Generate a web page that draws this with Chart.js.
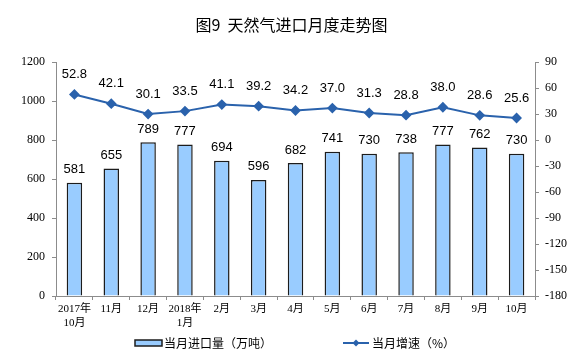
<!DOCTYPE html>
<html><head><meta charset="utf-8">
<script src="https://cdn.jsdelivr.net/npm/chart.js@4/dist/chart.umd.min.js"></script>
<style>html,body{margin:0;padding:0;background:#fff}#wrap{width:583px;height:356px}</style>
</head><body><div id="wrap"><canvas id="c" width="583" height="356"></canvas></div>
<script>
const categories = [["2017年","10月"],"11月","12月",["2018年","1月"],"2月","3月","4月","5月","6月","7月","8月","9月","10月"];
const importVolume = [581,655,789,777,694,596,682,741,730,738,777,762,730];
const growthRate = [52.8,42.1,30.1,33.5,41.1,39.2,34.2,37.0,31.3,28.8,38.0,28.6,25.6];
const leftTicks = [0,200,400,600,800,1000,1200];
const rightTicks = [-180,-150,-120,-90,-60,-30,0,30,60,90];
const seriesNames = ["当月进口量（万吨）","当月增速（%）"];
const titleText = "图9  天然气进口月度走势图";

const BAR_FILL = '#99CCFF', BAR_BORDER = '#1c1c1c', LINE_COLOR = '#2A62AC', AXIS = '#8c8c8c';
const serif = '"Liberation Serif","Noto Sans CJK SC",serif';
const cjk = '"Liberation Serif","Noto Sans CJK SC",sans-serif';

const labelPlugin = {
  id: 'valueLabels',
  afterDatasetsDraw(chart) {
    const ctx = chart.ctx;
    ctx.save();
    ctx.font = '13px "Liberation Sans", Arial, sans-serif';
    ctx.fillStyle = '#000';
    ctx.textAlign = 'center';
    ctx.textBaseline = 'middle';
    chart.getDatasetMeta(0).data.forEach((el, i) => {
      ctx.fillText(String(importVolume[i]), el.x, el.y - 13);
    });
    chart.getDatasetMeta(1).data.forEach((el, i) => {
      ctx.fillText(growthRate[i].toFixed(1), el.x, el.y - 20);
    });
    ctx.restore();
  }
};

const legendPlugin = {
  id: 'customLegend',
  afterDraw(chart) {
    const ctx = chart.ctx;
    const y = 343;
    ctx.save();
    ctx.font = '12px "Noto Sans CJK SC", sans-serif';
    ctx.textBaseline = 'middle';
    ctx.fillStyle = BAR_FILL;
    ctx.fillRect(135, y - 3, 27, 6);
    ctx.strokeStyle = BAR_BORDER; ctx.lineWidth = 1.5;
    ctx.strokeRect(135, y - 3, 27, 6);
    ctx.fillStyle = '#000';
    ctx.fillText(seriesNames[0], 164, y);
    ctx.strokeStyle = LINE_COLOR; ctx.lineWidth = 2;
    ctx.beginPath(); ctx.moveTo(343, y); ctx.lineTo(369, y); ctx.stroke();
    ctx.fillStyle = LINE_COLOR;
    ctx.beginPath(); ctx.moveTo(356, y - 3.5); ctx.lineTo(359.5, y); ctx.lineTo(356, y + 3.5); ctx.lineTo(352.5, y); ctx.closePath(); ctx.fill();
    ctx.fillStyle = '#000';
    ctx.fillText(seriesNames[1], 372, y);
    ctx.restore();
  }
};

new Chart(document.getElementById('c'), {
  data: {
    labels: categories,
    datasets: [
      { type: 'bar', label: seriesNames[0], data: importVolume, yAxisID: 'y',
        backgroundColor: BAR_FILL, borderColor: BAR_BORDER, borderWidth: 1.5,
        categoryPercentage: 1.0, barPercentage: 0.42, order: 2 },
      { type: 'line', label: seriesNames[1], data: growthRate, yAxisID: 'y1',
        borderColor: LINE_COLOR, backgroundColor: LINE_COLOR, borderWidth: 2,
        pointStyle: 'rectRot', pointRadius: 4, pointBackgroundColor: LINE_COLOR,
        pointBorderColor: LINE_COLOR, tension: 0, order: 1 }
    ]
  },
  options: {
    responsive: false, animation: false, devicePixelRatio: 1,
    layout: { padding: { left: 0, right: 0, top: 0, bottom: 26 } },
    plugins: {
      legend: { display: false },
      tooltip: { enabled: false },
      title: { display: true, text: titleText, color: '#000',
        font: { family: '"Noto Sans CJK SC", sans-serif', size: 16, weight: 'normal', lineHeight: 1.2 },
        padding: { top: 15, bottom: 28 } }
    },
    scales: {
      x: {
        offset: true,
        grid: { display: true, drawOnChartArea: false, offset: true, color: AXIS, tickLength: 4 },
        border: { display: true, color: AXIS, width: 1 },
        ticks: { color: '#000', font: { family: cjk, size: 11, lineHeight: 1.2 }, padding: 3, maxRotation: 0, autoSkip: false },
        afterFit(s) { s.height = 34; }
      },
      y: {
        position: 'left', min: 0, max: 1200,
        afterBuildTicks(s) { s.ticks = leftTicks.map(v => ({ value: v })); },
        grid: { drawOnChartArea: false, color: AXIS, tickLength: 4 },
        border: { display: true, color: AXIS, width: 1 },
        ticks: { color: '#000', font: { family: serif, size: 12 }, padding: 7, callback: v => String(v) },
        afterFit(s) { s.width = 56; }
      },
      y1: {
        position: 'right', min: -180, max: 90,
        afterBuildTicks(s) { s.ticks = rightTicks.map(v => ({ value: v })); },
        grid: { drawOnChartArea: false, color: AXIS, tickLength: 4 },
        border: { display: true, color: AXIS, width: 1 },
        ticks: { color: '#000', font: { family: serif, size: 12 }, padding: 6, callback: v => String(v) },
        afterFit(s) { s.width = 48; }
      }
    }
  },
  plugins: [labelPlugin, legendPlugin]
});
</script></body></html>
